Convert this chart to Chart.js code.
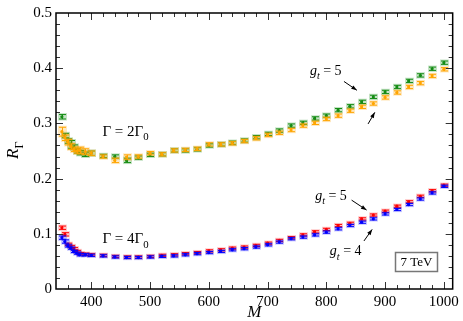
<!DOCTYPE html>
<html>
<head>
<meta charset="utf-8">
<script src="https://cdn.jsdelivr.net/npm/chart.js@4.4.0/dist/chart.umd.min.js"></script>
<style>
html, body { margin: 0; padding: 0; background: #fff; }
canvas { display: block; }
</style>
</head>
<body>
<canvas id="c" width="463" height="321"></canvas>
<script>
// masses M (GeV) shared by all four series
const masses = [350, 355, 360, 365, 370, 375, 380, 390, 400, 420, 440, 460, 480, 500, 520, 540, 560, 580, 600, 620,
    640, 660, 680, 700, 720, 740, 760, 780, 800, 820, 840, 860, 880, 900, 920, 940, 960, 980, 1000];

// Gamma = 2 Gamma0
const w2g5 = [0.312, 0.278, 0.268, 0.262, 0.257, 0.250, 0.247, 0.244, 0.246, 0.241, 0.240, 0.233, 0.238, 0.243, 0.244,
    0.251, 0.251, 0.253, 0.260, 0.262, 0.265, 0.269, 0.275, 0.281, 0.287, 0.296, 0.301, 0.309, 0.314, 0.324,
    0.331, 0.339, 0.348, 0.357, 0.366, 0.377, 0.387, 0.399, 0.410];
const w2g5Err = [0.004, 0.004, 0.004, 0.007, 0.004, 0.004, 0.004, 0.004, 0.004, 0.003, 0.003, 0.004, 0.003, 0.003, 0.003,
    0.003, 0.003, 0.003, 0.003, 0.003, 0.003, 0.003, 0.003, 0.003, 0.003, 0.003, 0.003, 0.003, 0.003, 0.003,
    0.003, 0.003, 0.003, 0.003, 0.003, 0.003, 0.003, 0.003, 0.003];
const w2g4 = [0.285, 0.274, 0.266, 0.258, 0.253, 0.250, 0.251, 0.249, 0.246, 0.240, 0.233, 0.239, 0.240, 0.246, 0.244,
    0.251, 0.252, 0.254, 0.262, 0.262, 0.264, 0.268, 0.273, 0.279, 0.283, 0.288, 0.296, 0.301, 0.308, 0.314,
    0.323, 0.330, 0.336, 0.347, 0.356, 0.366, 0.373, 0.386, 0.398];
const w2g4Err = [0.008, 0.005, 0.005, 0.005, 0.004, 0.004, 0.006, 0.005, 0.004, 0.003, 0.004, 0.004, 0.003, 0.003, 0.003,
    0.003, 0.003, 0.003, 0.003, 0.003, 0.003, 0.003, 0.003, 0.003, 0.003, 0.003, 0.003, 0.003, 0.003, 0.003,
    0.003, 0.003, 0.003, 0.003, 0.003, 0.003, 0.003, 0.003, 0.003];

// Gamma = 4 Gamma0
const w4g5 = [0.111, 0.099, 0.081, 0.077, 0.073, 0.068, 0.064, 0.063, 0.062, 0.061, 0.059, 0.058, 0.058, 0.059, 0.061,
    0.062, 0.064, 0.066, 0.069, 0.071, 0.074, 0.076, 0.079, 0.083, 0.088, 0.093, 0.098, 0.1035, 0.108, 0.115,
    0.119, 0.127, 0.134, 0.141, 0.150, 0.158, 0.168, 0.178, 0.188];
const w4g5Err = [0.003, 0.003, 0.002, 0.002, 0.002, 0.002, 0.002, 0.002, 0.002, 0.002, 0.002, 0.002, 0.002, 0.002, 0.002,
    0.002, 0.002, 0.002, 0.002, 0.002, 0.002, 0.002, 0.002, 0.002, 0.002, 0.002, 0.002, 0.002, 0.002, 0.002,
    0.002, 0.002, 0.002, 0.002, 0.002, 0.002, 0.002, 0.002, 0.002];
const w4g4 = [0.093, 0.086, 0.078, 0.074, 0.068, 0.065, 0.062, 0.062, 0.061, 0.060, 0.058, 0.057, 0.057, 0.058, 0.059,
    0.060, 0.062, 0.064, 0.066, 0.068, 0.071, 0.073, 0.076, 0.080, 0.085, 0.091, 0.094, 0.098, 0.103, 0.109,
    0.115, 0.121, 0.127, 0.136, 0.144, 0.153, 0.163, 0.174, 0.186];
const w4g4Err = [0.003, 0.003, 0.002, 0.002, 0.002, 0.002, 0.002, 0.002, 0.002, 0.002, 0.002, 0.002, 0.002, 0.002, 0.002,
    0.002, 0.002, 0.002, 0.002, 0.002, 0.002, 0.002, 0.002, 0.002, 0.002, 0.002, 0.002, 0.002, 0.002, 0.002,
    0.002, 0.002, 0.002, 0.002, 0.002, 0.002, 0.002, 0.002, 0.002];

const xTicks = [400, 500, 600, 700, 800, 900, 1000];
const xTickLabels = ['400', '500', '600', '700', '800', '900', '1000'];
const yTicks = [0, 0.1, 0.2, 0.3, 0.4, 0.5];
const yTickLabels = ['0', '0.1', '0.2', '0.3', '0.4', '0.5'];

const SERIF = '"Liberation Serif", "DejaVu Serif", serif';

function points(vals, errs) {
    return masses.map((m, i) => ({x: m, y: vals[i], e: errs[i]}));
}

function series(vals, errs, color, halo) {
    return {
        data: points(vals, errs),
        borderColor: color,
        backgroundColor: color,
        halo: halo,
        pointRadius: 1.6,
        pointBorderWidth: 0,
        showLine: false
    };
}

//error bars with little caps, drawn under each dataset's dots
const errorBars = {
    id: 'errorBars',
    beforeDatasetDraw(chart, args) {
        const ds = chart.data.datasets[args.index];
        const {ctx, scales: {x, y}} = chart;
        ctx.save();
        ds.data.forEach(p => {
            const px = Math.round(x.getPixelForValue(p.x)) + 0.5;
            const top = y.getPixelForValue(p.y + p.e);
            const bot = y.getPixelForValue(p.y - p.e);
            ctx.fillStyle = ds.halo;
            ctx.fillRect(px - 4.5, top - 1.5, 9, bot - top + 3);
            ctx.strokeStyle = ds.borderColor;
            ctx.lineWidth = 1;
            ctx.beginPath();
            ctx.moveTo(px, top);
            ctx.lineTo(px, bot);
            ctx.moveTo(px - 3.5, top);
            ctx.lineTo(px + 3.5, top);
            ctx.moveTo(px - 3.5, bot);
            ctx.lineTo(px + 3.5, bot);
            ctx.stroke();
        });
        ctx.restore();
    }
};

//box frame with inward ticks on all four sides
const frame = {
    id: 'frame',
    afterDraw(chart) {
        const {ctx, chartArea: a, scales: {x, y}} = chart;
        ctx.save();
        ctx.strokeStyle = '#333';
        ctx.lineWidth = 1;
        ctx.beginPath();
        for (let m = 360; m <= 1000; m += 20) {
            const px = Math.round(x.getPixelForValue(m)) + 0.5;
            const len = m % 100 === 0 ? 7 : 4;
            ctx.moveTo(px, a.bottom); ctx.lineTo(px, a.bottom - len);
            ctx.moveTo(px, a.top); ctx.lineTo(px, a.top + len);
        }
        for (let k = 1; k < 25; k++) {
            const py = Math.round(y.getPixelForValue(k * 0.02)) + 0.5;
            const len = k % 5 === 0 ? 7 : 4;
            ctx.moveTo(a.left, py); ctx.lineTo(a.left + len, py);
            ctx.moveTo(a.right, py); ctx.lineTo(a.right - len, py);
        }
        ctx.stroke();
        ctx.strokeStyle = '#000';
        ctx.lineWidth = 1.5;
        ctx.strokeRect(a.left, a.top, a.right - a.left, a.bottom - a.top);
        ctx.restore();
    }
};

function rich(ctx, x, y, parts, size) {
    let cx = x;
    parts.forEach(p => {
        const fs = p.sub ? size * 0.72 : size;
        ctx.font = (p.it ? 'italic ' : '') + fs + 'px ' + SERIF;
        ctx.fillText(p.t, cx, y + (p.sub ? size * 0.3 : 0));
        cx += ctx.measureText(p.t).width;
    });
}

function arrow(ctx, x0, y0, x1, y1) {
    const ang = Math.atan2(y1 - y0, x1 - x0);
    ctx.beginPath();
    ctx.moveTo(x0, y0);
    ctx.lineTo(x1, y1);
    ctx.stroke();
    ctx.beginPath();
    ctx.moveTo(x1, y1);
    ctx.lineTo(x1 - 6 * Math.cos(ang - 0.35), y1 - 6 * Math.sin(ang - 0.35));
    ctx.lineTo(x1 - 6 * Math.cos(ang + 0.35), y1 - 6 * Math.sin(ang + 0.35));
    ctx.closePath();
    ctx.fill();
}

//labels, arrows, energy box and axis titles (placed in data coordinates)
const notes = {
    id: 'notes',
    afterDraw(chart) {
        const {ctx, chartArea: a, scales: {x, y}} = chart;
        const X = v => x.getPixelForValue(v), Y = v => y.getPixelForValue(v);
        ctx.save();
        ctx.fillStyle = '#000';
        ctx.strokeStyle = '#000';
        ctx.lineWidth = 1;
        ctx.textBaseline = 'alphabetic';
        ctx.textAlign = 'left';

        rich(ctx, X(419), Y(0.278), [{t: 'Γ = 2Γ'}, {t: '0', sub: true}], 15);
        rich(ctx, X(419), Y(0.083), [{t: 'Γ = 4Γ'}, {t: '0', sub: true}], 15);

        const gt = n => [{t: 'g', it: true}, {t: 't', it: true, sub: true}, {t: ' = ' + n}];
        rich(ctx, X(772), Y(0.388), gt(5), 14);
        rich(ctx, X(781), Y(0.161), gt(5), 14);
        rich(ctx, X(806), Y(0.061), gt(4), 14);

        arrow(ctx, X(830), Y(0.376), X(852), Y(0.360));
        arrow(ctx, X(871), Y(0.299), X(882.5), Y(0.320));
        arrow(ctx, X(843), Y(0.161), X(868.5), Y(0.143));
        arrow(ctx, X(864), Y(0.087), X(878), Y(0.108));

        //energy box
        const bx0 = Math.round(X(916)) + 0.5, bx1 = Math.round(X(989)) + 0.5;
        const by0 = Math.round(Y(0.0664)) + 0.5, by1 = Math.round(Y(0.0329)) + 0.5;
        ctx.strokeStyle = '#777';
        ctx.lineWidth = 1.5;
        ctx.strokeRect(bx0, by0, bx1 - bx0, by1 - by0);
        ctx.font = '13px ' + SERIF;
        ctx.textAlign = 'center';
        ctx.textBaseline = 'middle';
        ctx.fillText('7 TeV', (bx0 + bx1) / 2, (by0 + by1) / 2 + 1);

        //axis titles
        ctx.textAlign = 'left';
        ctx.textBaseline = 'alphabetic';
        ctx.font = 'italic 17px ' + SERIF;
        ctx.fillText('M', (a.left + a.right) / 2 - 7, 317);
        ctx.translate(a.left - 38, (a.top + a.bottom) / 2 + 8);
        ctx.rotate(-Math.PI / 2);
        rich(ctx, 0, 0, [{t: 'R', it: true}, {t: 'Γ', sub: true}], 17);
        ctx.restore();
    }
};

new Chart(document.getElementById('c'), {
    type: 'scatter',
    data: {
        datasets: [
            series(w2g4, w2g4Err, 'rgb(255,165,0)', 'rgba(255,165,0,0.25)'),
            series(w2g5, w2g5Err, 'rgb(20,140,20)', 'rgba(20,140,20,0.25)'),
            series(w4g4, w4g4Err, 'rgb(0,0,255)', 'rgba(0,0,255,0.22)'),
            series(w4g5, w4g5Err, 'rgb(255,0,0)', 'rgba(255,0,0,0.22)')
        ]
    },
    options: {
        responsive: false,
        animation: false,
        devicePixelRatio: 1,
        layout: {padding: {top: 6, right: 6, left: 0, bottom: 0}},
        plugins: {legend: {display: false}, tooltip: {enabled: false}},
        scales: {
            x: {
                type: 'linear', min: 340, max: 1015,
                afterBuildTicks: s => { s.ticks = xTicks.map(v => ({value: v})); },
                afterFit: s => { s.height = 32; },
                grid: {display: false, drawTicks: false},
                border: {display: false},
                ticks: {
                    autoSkip: false, maxRotation: 0, padding: 4, color: '#000',
                    font: {family: SERIF, size: 15},
                    callback: (v, i) => xTickLabels[i]
                }
            },
            y: {
                type: 'linear', min: 0, max: 0.5,
                afterBuildTicks: s => { s.ticks = yTicks.map(v => ({value: v})); },
                afterFit: s => { s.width = 56; },
                grid: {display: false, drawTicks: false},
                border: {display: false},
                ticks: {
                    padding: 4, color: '#000',
                    font: {family: SERIF, size: 15},
                    callback: (v, i) => yTickLabels[i]
                }
            }
        }
    },
    plugins: [errorBars, frame, notes]
});
</script>
</body>
</html>
